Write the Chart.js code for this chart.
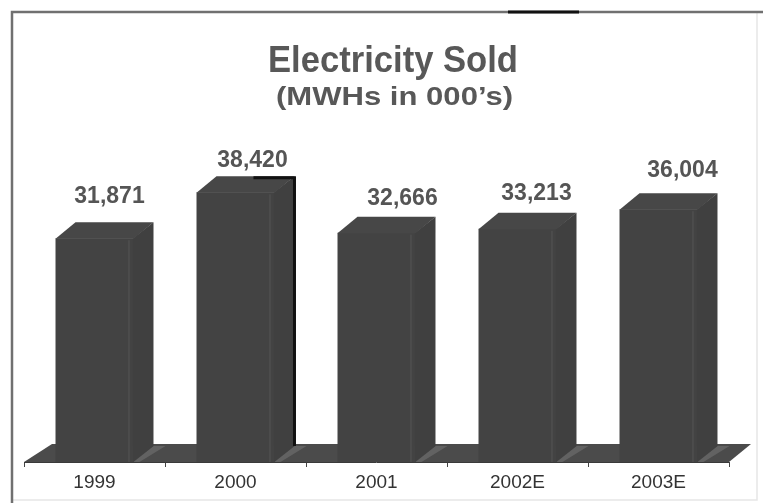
<!DOCTYPE html>
<html>
<head>
<meta charset="utf-8">
<title>Electricity Sold</title>
<script src="https://cdn.jsdelivr.net/npm/chart.js@4.4.1/dist/chart.umd.min.js"></script>
<style>
  html, body { margin: 0; padding: 0; background: #ffffff; }
  canvas { display: block; }
</style>
</head>
<body>
<canvas id="chart" width="763" height="503"></canvas>
<script>
// ---- data ----
const categories = ['1999', '2000', '2001', '2002E', '2003E'];
const mwhSold = [31871, 38420, 32666, 33213, 36004];
const titleText = 'Electricity Sold';
const subtitleText = '(MWHs in 000\u2019s)';

// value label nudges: horizontal shift from the front-face centre, rise above the front top (px)
const labelShiftX = [15, 17, 26, 19, 24];
const labelRise = [35, 25, 28, 29, 32];

// ---- styling ----
const FONT = '"Liberation Sans", Arial, Helvetica, sans-serif';
const BAR_FRONT = '#434343';
const BAR_TOP = '#474747';
const BAR_SIDE = '#404040';
const FLOOR = '#4b4b4b';
const FLOOR_LIGHT = '#626262';
const DEPTH_X = 20, DEPTH_Y = -16;          // bar depth offset
const FLOOR_DY = -18, FLOOR_DX_L = 28, FLOOR_DX_R = 22;
const OUTLINED_BAR = 1;                      // bar with a dark back edge

function drawStretched(ctx, text, font, cx, baseline, width, color) {
  ctx.save();
  ctx.font = font;
  const w = ctx.measureText(text).width;
  ctx.translate(cx, baseline);
  ctx.scale(width / w, 1);
  ctx.textAlign = 'center';
  ctx.textBaseline = 'alphabetic';
  ctx.fillStyle = color;
  ctx.fillText(text, 0, 0);
  ctx.restore();
}

// white page, frame and headings
const framePlugin = {
  id: 'frame',
  beforeDraw(chart) {
    const ctx = chart.ctx;
    ctx.save();
    ctx.fillStyle = '#ffffff';
    ctx.fillRect(0, 0, chart.width, chart.height);
    // faint right/bottom edges
    ctx.strokeStyle = '#e6e6e6';
    ctx.lineWidth = 1.5;
    ctx.beginPath();
    ctx.moveTo(757, 12); ctx.lineTo(757, 500); ctx.lineTo(12, 500);
    ctx.stroke();
    // left and top edges
    ctx.strokeStyle = '#707070';
    ctx.lineWidth = 2.5;
    ctx.beginPath();
    ctx.moveTo(12, 503); ctx.lineTo(12, 12); ctx.lineTo(763, 12);
    ctx.stroke();
    ctx.strokeStyle = '#111111';
    ctx.lineWidth = 3;
    ctx.beginPath();
    ctx.moveTo(508, 12); ctx.lineTo(579, 12);
    ctx.stroke();
    ctx.restore();
  },
  afterDraw(chart) {
    const ctx = chart.ctx;
    drawStretched(ctx, titleText, 'bold 37px ' + FONT, 393, 72, 250, '#585858');
    drawStretched(ctx, subtitleText, 'bold 25px ' + FONT, 394.5, 105, 237, '#585858');
  }
};

// 3-D floor, bar tops/sides and value labels
const bars3dPlugin = {
  id: 'bars3d',
  beforeDatasetsDraw(chart) {
    const ctx = chart.ctx;
    const xs = chart.scales.x, ys = chart.scales.y;
    const y0 = ys.getPixelForValue(0);
    ctx.save();
    ctx.fillStyle = FLOOR;
    ctx.beginPath();
    ctx.moveTo(xs.left, y0);
    ctx.lineTo(xs.left + FLOOR_DX_L, y0 + FLOOR_DY);
    ctx.lineTo(xs.right + FLOOR_DX_R, y0 + FLOOR_DY);
    ctx.lineTo(xs.right, y0);
    ctx.closePath();
    ctx.fill();
    // lighter patches on the floor beside each bar
    const meta = chart.getDatasetMeta(0);
    ctx.fillStyle = FLOOR_LIGHT;
    meta.data.forEach(bar => {
      const xr = bar.x + bar.width / 2;
      ctx.beginPath();
      ctx.moveTo(xr, bar.base);
      ctx.lineTo(xr + DEPTH_X, bar.base + DEPTH_Y);
      ctx.lineTo(xr + DEPTH_X + 12, bar.base + DEPTH_Y);
      ctx.lineTo(xr + 6, bar.base);
      ctx.closePath();
      ctx.fill();
    });
    // floor front edge
    ctx.strokeStyle = '#3a3a3a';
    ctx.lineWidth = 1;
    ctx.beginPath();
    ctx.moveTo(xs.left, y0 + 0.5);
    ctx.lineTo(xs.right, y0 + 0.5);
    ctx.stroke();
    ctx.restore();
  },
  afterDatasetsDraw(chart) {
    const ctx = chart.ctx;
    const meta = chart.getDatasetMeta(0);
    ctx.save();
    meta.data.forEach((bar, i) => {
      const xl = bar.x - bar.width / 2, xr = bar.x + bar.width / 2;
      const yt = bar.y, yb = bar.base;
      // side face
      ctx.fillStyle = BAR_SIDE;
      ctx.beginPath();
      ctx.moveTo(xr - 0.5, yt);
      ctx.lineTo(xr + DEPTH_X, yt + DEPTH_Y);
      ctx.lineTo(xr + DEPTH_X, yb + DEPTH_Y);
      ctx.lineTo(xr - 0.5, yb);
      ctx.closePath();
      ctx.fill();
      // top face
      ctx.fillStyle = BAR_TOP;
      ctx.beginPath();
      ctx.moveTo(xl, yt + 0.5);
      ctx.lineTo(xl + DEPTH_X, yt + DEPTH_Y);
      ctx.lineTo(xr + DEPTH_X, yt + DEPTH_Y);
      ctx.lineTo(xr, yt + 0.5);
      ctx.closePath();
      ctx.fill();
      // faint light streak near the side edge
      ctx.strokeStyle = 'rgba(120,120,120,0.35)';
      ctx.lineWidth = 1;
      ctx.beginPath();
      ctx.moveTo(xr - 4.5, yt + 2);
      ctx.lineTo(xr - 4.5, yb);
      ctx.stroke();

      if (i === OUTLINED_BAR) {
        ctx.strokeStyle = '#111111';
        ctx.lineWidth = 3;
        ctx.beginPath();
        ctx.moveTo(xr + DEPTH_X - 41, yt + DEPTH_Y + 1.5);
        ctx.lineTo(xr + DEPTH_X, yt + DEPTH_Y + 1.5);
        ctx.lineTo(xr + DEPTH_X, yb + DEPTH_Y);
        ctx.stroke();
      }

      // value label
      ctx.fillStyle = '#555555';
      ctx.font = 'bold 23px ' + FONT;
      ctx.textAlign = 'center';
      ctx.textBaseline = 'alphabetic';
      ctx.fillText(mwhSold[i].toLocaleString('en-US'), bar.x + labelShiftX[i], yt - labelRise[i]);
    });
    ctx.restore();
  }
};

new Chart(document.getElementById('chart'), {
  type: 'bar',
  data: {
    labels: categories,
    datasets: [{
      data: mwhSold,
      backgroundColor: BAR_FRONT,
      borderWidth: 0,
      categoryPercentage: 1,
      barPercentage: 0.553
    }]
  },
  options: {
    responsive: false,
    devicePixelRatio: 1,
    animation: false,
    layout: { padding: { top: 111, left: 24, right: 34, bottom: 0 } },
    plugins: {
      legend: { display: false },
      title: { display: false },
      tooltip: { enabled: false }
    },
    scales: {
      x: {
        grid: {
          display: true,
          drawOnChartArea: false,
          drawTicks: true,
          tickLength: 5,
          color: '#444444',
          lineWidth: 1
        },
        border: { display: false },
        ticks: {
          color: '#333333',
          font: { family: FONT, size: 19 },
          padding: 4,
          maxRotation: 0
        },
        afterFit(scale) { scale.height = 41; }
      },
      y: {
        display: false,
        min: 0,
        max: 50000
      }
    }
  },
  plugins: [framePlugin, bars3dPlugin]
});
</script>
</body>
</html>
